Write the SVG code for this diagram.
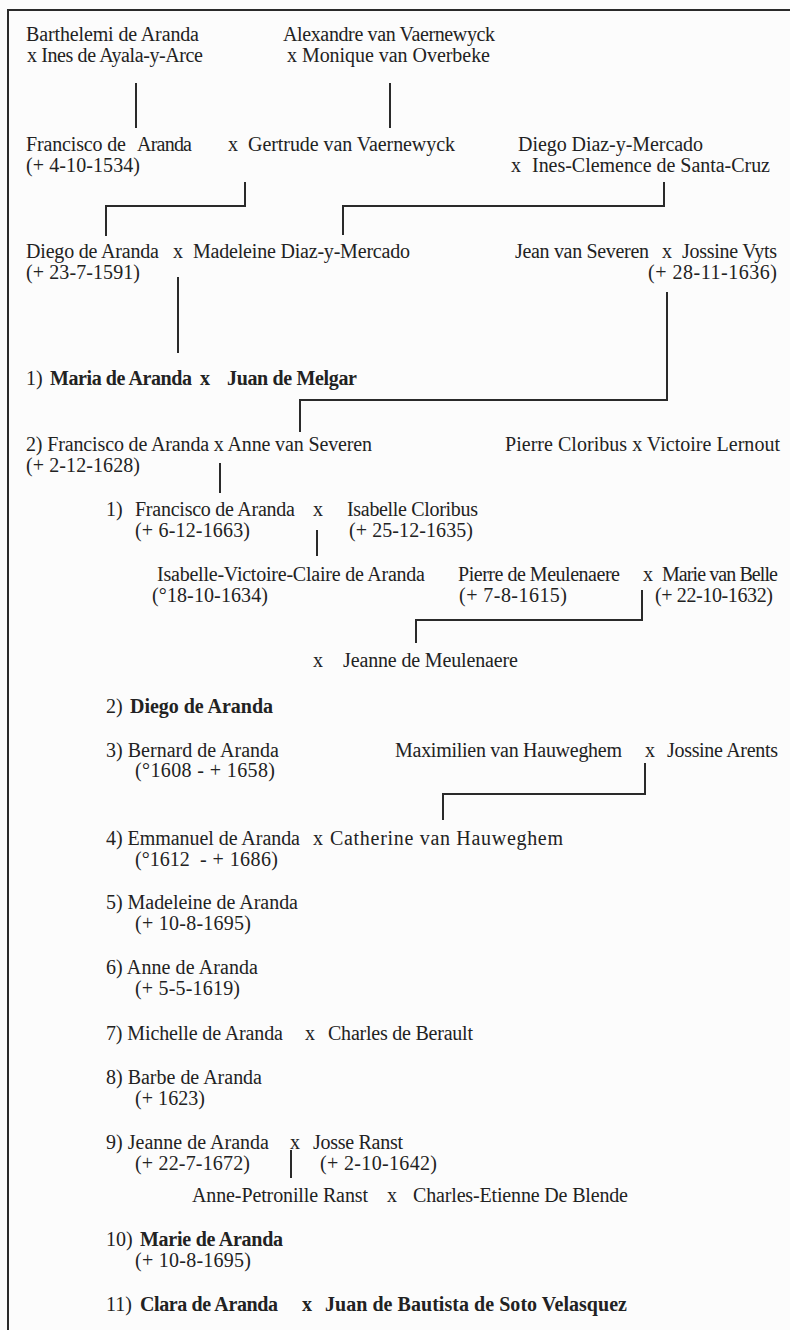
<svg xmlns="http://www.w3.org/2000/svg" width="790" height="1330" viewBox="0 0 790 1330">
<style>
text { font-family: "Liberation Serif", "Times New Roman", serif; font-size: 20px; fill: #222; }
.b { font-weight: bold; }
.conn { fill: none; stroke: #2a2a2a; stroke-width: 2; }
.frame { fill: none; stroke: #2a2a2a; stroke-width: 2; }
</style>
<rect x="0" y="0" width="790" height="1330" fill="#fcfcfc"/>
<path class="frame" d="M8,1330 V10 H790"/>
<g id="connectors">
<path class="conn" d="M136,83 V128"/>
<path class="conn" d="M390,83 V128"/>
<path class="conn" d="M245,182 V206 H106 V236"/>
<path class="conn" d="M664,182 V206 H343 V235"/>
<path class="conn" d="M178,277 V353"/>
<path class="conn" d="M667,292 V400 H300 V432"/>
<path class="conn" d="M220,463 V493"/>
<path class="conn" d="M317,530 V556"/>
<path class="conn" d="M642,590 V620 H416 V643"/>
<path class="conn" d="M645,763 V794 H443 V820"/>
<path class="conn" d="M291,1150 V1178"/>
</g>
<g id="n-barthelemi">
<text x="26" y="41" textLength="173">Barthelemi de Aranda</text>
<text x="27" y="62" textLength="176">x Ines de Ayala-y-Arce</text>
</g>
<g id="n-alexandre">
<text x="283" y="41" textLength="212">Alexandre van Vaernewyck</text>
<text x="287" y="62" textLength="203">x Monique van Overbeke</text>
</g>
<g id="n-francisco-1534">
<text x="26" y="151" textLength="100">Francisco de</text>
<text x="137" y="151" textLength="55">Aranda</text>
<text x="26" y="172" textLength="114">(+ 4-10-1534)</text>
<text x="228" y="151">x</text>
<text x="248" y="151" textLength="207">Gertrude van Vaernewyck</text>
</g>
<g id="n-diego-diaz">
<text x="518" y="151" textLength="185">Diego Diaz-y-Mercado</text>
<text x="511" y="172">x</text>
<text x="532" y="172" textLength="238">Ines-Clemence de Santa-Cruz</text>
</g>
<g id="n-diego-1591">
<text x="26" y="258" textLength="133">Diego de Aranda</text>
<text x="173" y="258">x</text>
<text x="193" y="258" textLength="217">Madeleine Diaz-y-Mercado</text>
<text x="26" y="279" textLength="114">(+ 23-7-1591)</text>
</g>
<g id="n-jean">
<text x="515" y="258" textLength="134">Jean van Severen</text>
<text x="662" y="258">x</text>
<text x="682" y="258" textLength="95">Jossine Vyts</text>
<text x="648" y="279" textLength="129">(+ 28-11-1636)</text>
</g>
<g id="n-maria">
<text x="26" y="385">1)</text>
<text class="b" x="50" y="385" textLength="142">Maria de Aranda</text>
<text class="b" x="200" y="385">x</text>
<text class="b" x="227" y="385" textLength="130">Juan de Melgar</text>
</g>
<g id="n-francisco-1628">
<text x="26" y="451" textLength="346">2) Francisco de Aranda x Anne van Severen</text>
<text x="26" y="472" textLength="114">(+ 2-12-1628)</text>
</g>
<g id="n-cloribus">
<text x="505" y="451" textLength="275">Pierre Cloribus x Victoire Lernout</text>
</g>
<g id="n-francisco-1663">
<text x="106" y="516">1)</text>
<text x="135" y="516" textLength="160">Francisco de Aranda</text>
<text x="313" y="516">x</text>
<text x="347" y="516" textLength="131">Isabelle Cloribus</text>
<text x="135" y="537" textLength="115">(+ 6-12-1663)</text>
<text x="349" y="537" textLength="124">(+ 25-12-1635)</text>
</g>
<g id="n-isabelle">
<text x="157" y="581" textLength="268">Isabelle-Victoire-Claire de Aranda</text>
<text x="152" y="602" textLength="116">(°18-10-1634)</text>
</g>
<g id="n-meulenaere">
<text x="458" y="581" textLength="162">Pierre de Meulenaere</text>
<text x="643" y="581">x</text>
<text x="662" y="581" textLength="116">Marie van Belle</text>
<text x="459" y="602" textLength="108">(+ 7-8-1615)</text>
<text x="655" y="602" textLength="118">(+ 22-10-1632)</text>
</g>
<g id="n-jeanne-meulenaere">
<text x="313" y="667">x</text>
<text x="343" y="667" textLength="175">Jeanne de Meulenaere</text>
</g>
<g id="n-diego-2">
<text x="106" y="713">2)</text>
<text class="b" x="130" y="713" textLength="143">Diego de Aranda</text>
</g>
<g id="n-bernard">
<text x="106" y="757" textLength="173">3) Bernard de Aranda</text>
<text x="135" y="777" textLength="140">(°1608 - + 1658)</text>
</g>
<g id="n-maximilien">
<text x="395" y="757" textLength="227">Maximilien van Hauweghem</text>
<text x="645" y="757">x</text>
<text x="667" y="757" textLength="111">Jossine Arents</text>
</g>
<g id="n-emmanuel">
<text x="106" y="845" textLength="194">4) Emmanuel de Aranda</text>
<text x="313" y="845">x</text>
<text x="330" y="845" textLength="233">Catherine van Hauweghem</text>
<text x="135" y="866">(°1612</text>
<text x="200" y="866" textLength="78">- + 1686)</text>
</g>
<g id="n-madeleine">
<text x="106" y="909" textLength="192">5) Madeleine de Aranda</text>
<text x="135" y="930" textLength="116">(+ 10-8-1695)</text>
</g>
<g id="n-anne">
<text x="106" y="974" textLength="152">6) Anne de Aranda</text>
<text x="135" y="995" textLength="105">(+ 5-5-1619)</text>
</g>
<g id="n-michelle">
<text x="106" y="1040" textLength="177">7) Michelle de Aranda</text>
<text x="305" y="1040">x</text>
<text x="328" y="1040" textLength="145">Charles de Berault</text>
</g>
<g id="n-barbe">
<text x="106" y="1084" textLength="156">8) Barbe de Aranda</text>
<text x="135" y="1105" textLength="70">(+ 1623)</text>
</g>
<g id="n-jeanne">
<text x="106" y="1149" textLength="163">9) Jeanne de Aranda</text>
<text x="290" y="1149">x</text>
<text x="313" y="1149" textLength="90">Josse Ranst</text>
<text x="135" y="1170" textLength="115">(+ 22-7-1672)</text>
<text x="320" y="1170" textLength="117">(+ 2-10-1642)</text>
</g>
<g id="n-anne-petronille">
<text x="192" y="1202" textLength="176">Anne-Petronille Ranst</text>
<text x="387" y="1202">x</text>
<text x="413" y="1202" textLength="215">Charles-Etienne De Blende</text>
</g>
<g id="n-marie">
<text x="106" y="1246">10)</text>
<text class="b" x="140" y="1246" textLength="143">Marie de Aranda</text>
<text x="135" y="1267" textLength="116">(+ 10-8-1695)</text>
</g>
<g id="n-clara">
<text x="106" y="1311">11)</text>
<text class="b" x="140" y="1311" textLength="138">Clara de Aranda</text>
<text class="b" x="302" y="1311">x</text>
<text class="b" x="325" y="1311" textLength="302">Juan de Bautista de Soto Velasquez</text>
</g>
</svg>
